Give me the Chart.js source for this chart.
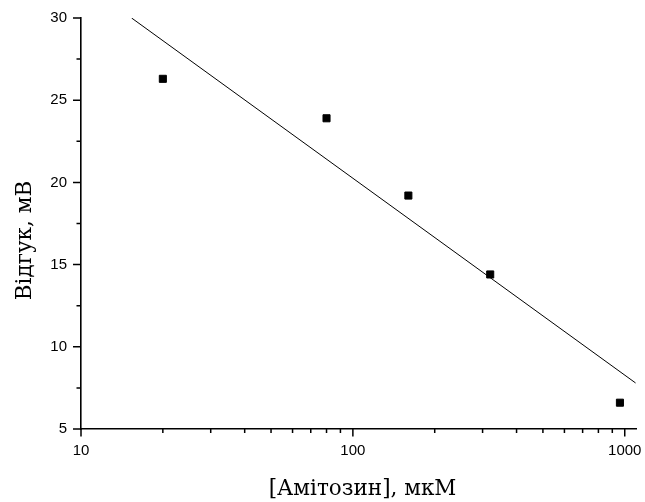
<!DOCTYPE html>
<html>
<head>
<meta charset="utf-8">
<script src="https://cdn.jsdelivr.net/npm/chart.js@4"></script>
<style>
html,body{margin:0;padding:0;background:#fff;}
#wrap{width:645px;height:502px;position:relative;}
</style>
</head>
<body>
<div id="wrap"><canvas id="c" width="645" height="502"></canvas></div>
<script>
// Data
const concentrations = [20, 80, 160, 320, 960];      // [Амітозин], мкМ
const responses = [26.3, 23.9, 19.2, 14.4, 6.6];      // Відгук, мВ
const fitX = [15.35, 1096];                            // fitted line endpoints (x)
const fitY = [30.0, 7.8];                              // fitted line endpoints (y)
const xMajorTicks = [10, 100, 1000];
const xMinorTicks = [20,30,40,50,60,70,80,90,200,300,400,500,600,700,800,900];
const yMajorTicks = [5, 10, 15, 20, 25, 30];
const yMinorTicks = [7.5, 12.5, 17.5, 22.5, 27.5];
const xTitle = '[Амітозин], мкМ';
const yTitle = 'Відгук, мВ';

const TITLE_FONT = '21.5px "DejaVu Serif"';

const tickPlugin = {
  id: 'tickMarks',
  afterDraw(chart) {
    const ctx = chart.ctx;
    const xs = chart.scales.x, ys = chart.scales.y;
    const ca = chart.chartArea;
    ctx.save();
    ctx.strokeStyle = '#000';
    ctx.lineWidth = 1.5;
    ctx.beginPath();
    xMajorTicks.forEach(v => { const p = xs.getPixelForValue(v); ctx.moveTo(p, ca.bottom); ctx.lineTo(p, ca.bottom + 7.5); });
    xMinorTicks.forEach(v => { const p = xs.getPixelForValue(v); ctx.moveTo(p, ca.bottom); ctx.lineTo(p, ca.bottom + 4); });
    yMajorTicks.forEach(v => { const p = ys.getPixelForValue(v); ctx.moveTo(ca.left, p); ctx.lineTo(ca.left - 8, p); });
    yMinorTicks.forEach(v => { const p = ys.getPixelForValue(v); ctx.moveTo(ca.left, p); ctx.lineTo(ca.left - 4.5, p); });
    ctx.stroke();
    // axis titles
    ctx.fillStyle = '#000';
    ctx.font = TITLE_FONT;
    ctx.textAlign = 'center';
    ctx.textBaseline = 'alphabetic';
    ctx.fillText(xTitle, (ca.left + ca.right) / 2 + 4, ca.bottom + 66);
    ctx.translate(ca.left - 50, (ca.top + ca.bottom) / 2 + 17);
    ctx.rotate(-Math.PI / 2);
    ctx.fillText(yTitle, 0, 0);
    ctx.restore();
  }
};

new Chart(document.getElementById('c'), {
  type: 'scatter',
  data: {
    datasets: [
      {
        label: 'data',
        data: concentrations.map((x, i) => ({x, y: responses[i]})),
        pointStyle: 'rect',
        pointRadius: 5,
        pointBorderWidth: 1,
        backgroundColor: '#000',
        borderColor: '#000',
        showLine: false
      },
      {
        label: 'fit',
        data: fitX.map((x, i) => ({x, y: fitY[i]})),
        showLine: true,
        borderColor: '#000',
        borderWidth: 1,
        pointRadius: 0,
        fill: false
      }
    ]
  },
  options: {
    responsive: false,
    animation: false,
    devicePixelRatio: 1,
    layout: { padding: { top: 18, right: 9, left: 0, bottom: 0 } },
    plugins: { legend: { display: false }, tooltip: { enabled: false } },
    scales: {
      x: {
        type: 'logarithmic',
        min: 10, max: 1100,
        afterBuildTicks: s => { s.ticks = xMajorTicks.map(v => ({value: v})); },
        afterFit: s => { s.height = 73; s.paddingLeft = 0; s.paddingRight = 0; },
        grid: { display: false, drawTicks: false },
        border: { display: true, color: '#000', width: 1.6 },
        ticks: {
          padding: 13,
          color: '#000',
          font: { family: 'Liberation Sans', size: 15 },
          maxRotation: 0,
          autoSkip: false,
          callback: v => String(v)
        },
        title: { display: false }
      },
      y: {
        type: 'linear',
        min: 5, max: 30,
        afterBuildTicks: s => { s.ticks = yMajorTicks.map(v => ({value: v})); },
        afterFit: s => { s.width = 81; s.paddingTop = 0; s.paddingBottom = 0; },
        grid: { display: false, drawTicks: false },
        border: { display: true, color: '#000', width: 1.6 },
        ticks: {
          padding: 14,
          color: '#000',
          font: { family: 'Liberation Sans', size: 15 },
          callback: v => String(v)
        },
        title: { display: false }
      }
    }
  },
  plugins: [tickPlugin]
});
</script>
</body>
</html>
